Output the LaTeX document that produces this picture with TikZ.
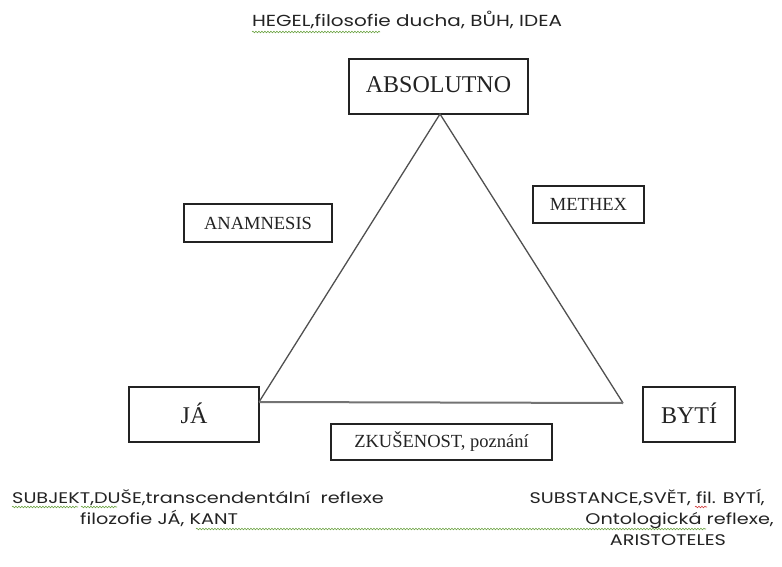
\documentclass[tikz,border=0pt]{standalone}
\usepackage{fontspec}
\setmainfont{Liberation Serif}
\newfontfamily\gothic[FakeStretch=1.25]{Poppins}
\usetikzlibrary{decorations.pathmorphing}
\definecolor{ink}{RGB}{35,35,35}
\definecolor{edge}{RGB}{80,80,80}
\definecolor{spellg}{RGB}{110,165,70}
\definecolor{spellr}{RGB}{210,60,60}
\tikzset{
  box/.style={draw=ink, line width=1.1pt, fill=white, text=ink, inner sep=0pt, font=\fontsize{18.5}{20}\selectfont},
  bigbox/.style={box, font=\fontsize{24}{26}\selectfont},
  side/.style={draw=edge, line width=1.3pt},
  base/.style={draw=edge!80, line width=2pt},
  note/.style={text=ink, inner sep=0pt, anchor=base, font=\gothic\fontsize{16}{18}\selectfont},
  smallnote/.style={note, font=\gothic\fontsize{15.4}{18}\selectfont},
  wavy/.style={decorate, decoration={snake, segment length=3pt, amplitude=0.8pt}, line width=0.6pt}
}
\begin{document}
\begin{tikzpicture}[x=1pt,y=-1pt]
\useasboundingbox (0,0) rectangle (782,567);
% boxes
\node[bigbox, minimum width=179pt, minimum height=55pt] (abs) at (438.5,86.5) {\raisebox{4pt}{ABSOLUTNO}};
\node[box, minimum width=148pt, minimum height=38pt] (anam) at (258,223) {ANAMNESIS};
\node[box, minimum width=111pt, minimum height=37pt] (meth) at (588.5,204.5) {METHEX};
\node[bigbox, minimum width=130pt, minimum height=55pt] (ja) at (194,414.5) {\raisebox{2pt}{JÁ}};
\node[bigbox, minimum width=92pt, minimum height=55pt] (byti) at (689,414.5) {\raisebox{3pt}{BYTÍ}};
\node[box, minimum width=221pt, minimum height=36pt] (zk) at (441.5,442) {ZKUŠENOST, poznání};
% triangle
\coordinate (apex) at (440,114);
\coordinate (lv) at (259,402);
\coordinate (rv) at (623,403);
\draw[side] (lv) -- (apex) -- (rv);
\draw[base] (lv) -- (rv);
% notes
\node[note] (hegel) at (407,27) {HEGEL,filosofie ducha, BŮH, IDEA};
\node[smallnote, anchor=base west] (subj) at (12,503) {SUBJEKT,DUŠE,transcendentální\ \ reflexe};
\node[smallnote, anchor=base west] (filo) at (80,524) {filozofie JÁ, KANT};
\node[smallnote, anchor=base east] (subs) at (765,503) {SUBSTANCE,SVĚT, fil. BYTÍ,};
\node[smallnote, anchor=base east] (onto) at (774,524) {Ontologická reflexe,};
\node[smallnote] (arist) at (668,545) {ARISTOTELES};
% spell-check underlines
\coordinate (w1a) at (252,32); \coordinate (w1b) at (380,32);
\coordinate (w2a) at (12,507); \coordinate (w2b) at (78,507);
\coordinate (w3a) at (81,507); \coordinate (w3b) at (117,507);
\coordinate (w4a) at (196,529); \coordinate (w4b) at (706,529);
\coordinate (w5a) at (695,507); \coordinate (w5b) at (707,507);
\draw[wavy, spellg] (w1a) -- (w1b);
\draw[wavy, spellg] (w2a) -- (w2b);
\draw[wavy, spellg] (w3a) -- (w3b);
\draw[wavy, spellg] (w4a) -- (w4b);
\draw[wavy, spellr] (w5a) -- (w5b);
\end{tikzpicture}
\end{document}
